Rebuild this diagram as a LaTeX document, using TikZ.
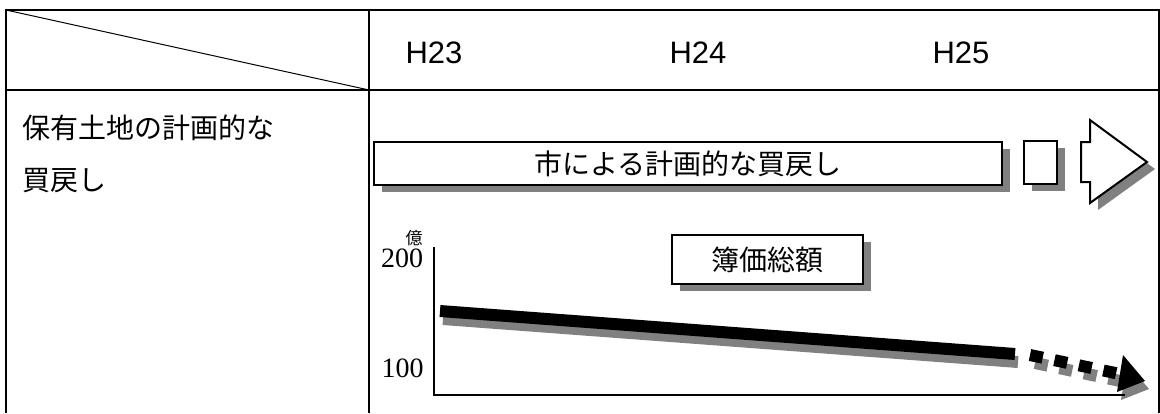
\documentclass[tikz,border=0pt]{standalone}
\usepackage{fontspec}
\newfontfamily\jp{Noto Sans CJK JP}
\newfontfamily\lsans{Liberation Sans}
\newfontfamily\lserif{Liberation Serif}
\usetikzlibrary{shadows}
\begin{document}
\begin{tikzpicture}[x=1pt,y=-1pt,
  rule/.style={line width=2pt, line cap=rect},
  box/.style={draw, line width=2pt, fill=white, inner sep=0pt,
    drop shadow={shadow xshift=8pt, shadow yshift=-7pt, fill=black!50, opacity=1}},
  hdr/.style={font=\lsans\fontsize{31}{31}\selectfont, inner sep=0pt},
  jtxt/.style={font=\jp\fontsize{28}{30}\selectfont},
  num/.style={font=\lserif\fontsize{28}{28}\selectfont, inner sep=0pt}
]
\useasboundingbox (0,0) rectangle (1160,413);
% table
\coordinate (tl) at (6,10);
\coordinate (tm) at (369,10);
\coordinate (tr) at (1159,10);
\coordinate (ml) at (6,90);
\coordinate (mm) at (369,90);
\coordinate (mr) at (1159,90);
\coordinate (bl) at (6,413);
\coordinate (bm) at (369,413);
\coordinate (br) at (1159,413);
\draw[line width=2pt] (bl) -- (tl) -- (tr) -- (br);
\draw[rule] (ml) -- (mr);
\draw[line width=2pt] (tm) -- (bm);
\draw[line width=1pt] (tl) -- (mm);
% headers
\node[hdr, anchor=base] (h23) at (434,63.5) {H23};
\node[hdr, anchor=base] (h24) at (698,63.5) {H24};
\node[hdr, anchor=base] (h25) at (961,63.5) {H25};
% row label
\node[jtxt, anchor=west, align=left, font=\jp\fontsize{28}{52}\selectfont] (lbl) at (19,154) {保有土地の計画的な\\買戻し};
% top bar boxes
\node[box, jtxt, minimum width=628pt, minimum height=43pt] (buy) at (688,163.5) {市による計画的な買戻し};
\node[box, minimum width=33pt, minimum height=43pt] (cont) at (1040.5,162.5) {};
\begin{scope}[shift={(8,7)}]
\fill[black!50] (1081,142) -- (1090,142) -- (1090,120) -- (1147,162) -- (1090,203) -- (1090,182) -- (1081,182) -- cycle;
\end{scope}
\draw[line width=2pt, fill=white, line join=miter] (1081,142) -- (1090,142) -- (1090,120) -- (1147,162) -- (1090,203) -- (1090,182) -- (1081,182) -- cycle;
% chart
\node[box, jtxt, minimum width=191pt, minimum height=49pt] (bk) at (767.8,259.4) {簿価総額};
\coordinate (ytop) at (434,247);
\coordinate (o) at (434,395);
\coordinate (xend) at (1125,395);
\node[num, anchor=base] (v200) at (402,267) {200};
\node[num, anchor=base] (v100) at (402.5,377) {100};
\node[font=\jp\fontsize{17}{17}\selectfont, inner sep=0pt] (oku) at (414,238) {億};
% trend line
\coordinate (a1) at (440,311);
\coordinate (a2) at (1015,354);
\coordinate (d1) at (1030,355);
\coordinate (d2) at (1120,374);
\draw[black!50, line width=12pt] ([shift={(3,8)}]a1) -- ([shift={(3,8)}]a2);
\draw[black!50, line width=12pt, dash pattern=on 13pt off 12pt] ([shift={(5,8)}]d1) -- ([shift={(5,8)}]d2);
\begin{scope}[shift={(4,8)}]
\fill[black!50] (1123,355) -- (1145,381) -- (1117,392) -- cycle;
\end{scope}
\draw[line width=2pt] (ytop) -- (o) -- (xend);
\draw[line width=12pt] (a1) -- (a2);
\draw[line width=12pt, dash pattern=on 13pt off 12pt] (d1) -- (d2);
\fill (1123,355) -- (1145,381) -- (1117,392) -- cycle;
\end{tikzpicture}
\end{document}
